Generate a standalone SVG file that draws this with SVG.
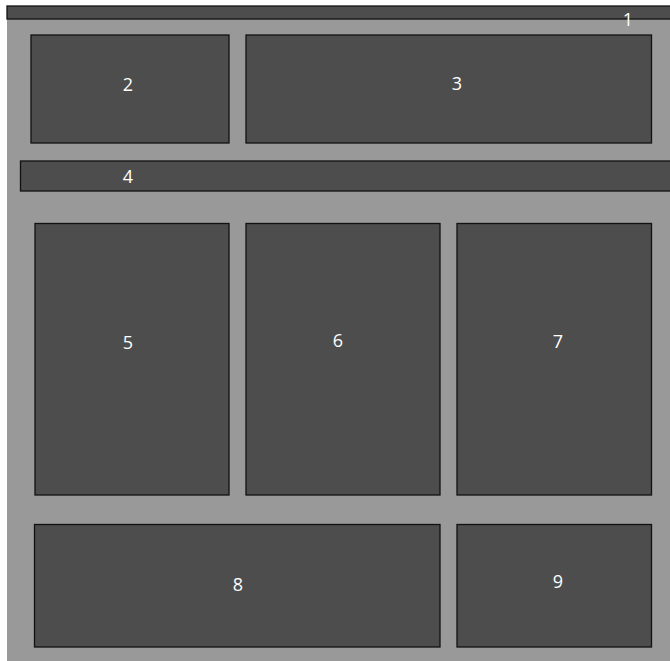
<svg xmlns="http://www.w3.org/2000/svg" width="670" height="661" viewBox="0 0 670 661">
<style>
.box{fill:#4d4d4d;stroke:#111;stroke-width:1.3}
.lbl{fill:#fff;font-family:"Open Sans","Noto Sans",sans-serif;font-size:18px;text-anchor:middle}
</style>
<rect x="0" y="0" width="670" height="661" fill="#fff"/>
<rect x="7" y="6" width="663" height="655" fill="#999999"/>
<g id="node1"><rect class="box" x="7" y="6" width="670" height="13"/><text class="lbl" x="628" y="26">1</text></g>
<g id="node2"><rect class="box" x="31" y="35" width="198" height="108"/><text class="lbl" x="128" y="91">2</text></g>
<g id="node3"><rect class="box" x="246" y="35" width="405.5" height="108"/><text class="lbl" x="457" y="90">3</text></g>
<g id="node4"><rect class="box" x="20.5" y="161" width="660" height="30"/><text class="lbl" x="128" y="183">4</text></g>
<g id="node5"><rect class="box" x="35" y="223.5" width="194" height="271.5"/><text class="lbl" x="128" y="349">5</text></g>
<g id="node6"><rect class="box" x="246" y="223.5" width="194" height="271.5"/><text class="lbl" x="338" y="347">6</text></g>
<g id="node7"><rect class="box" x="457" y="223.5" width="194.5" height="271.5"/><text class="lbl" x="558" y="348">7</text></g>
<g id="node8"><rect class="box" x="34.5" y="524.5" width="405.5" height="122.5"/><text class="lbl" x="238" y="591">8</text></g>
<g id="node9"><rect class="box" x="457" y="524.5" width="194.5" height="122.5"/><text class="lbl" x="558" y="588">9</text></g>
<g id="connectors"></g>
</svg>
